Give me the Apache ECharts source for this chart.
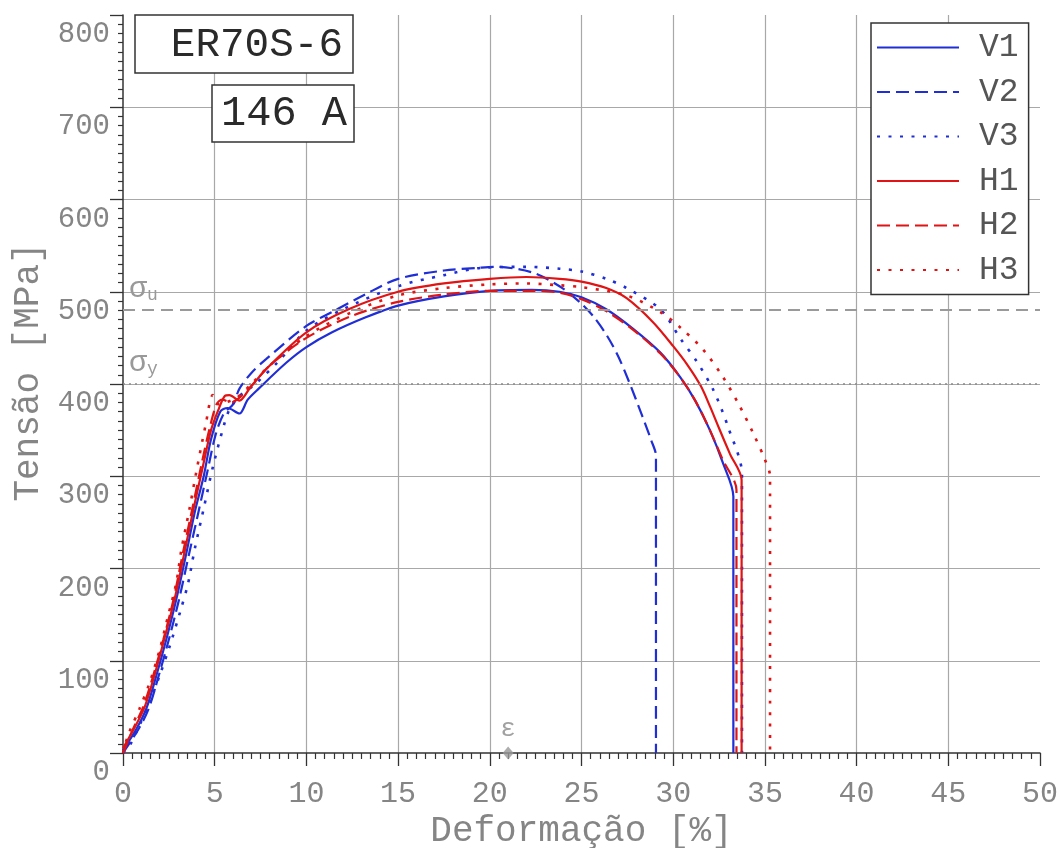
<!DOCTYPE html>
<html><head><meta charset="utf-8">
<script src="https://cdn.jsdelivr.net/npm/echarts@6/dist/echarts.min.js"></script>
<style>html,body{margin:0;padding:0;background:#fff}#c{width:1060px;height:848px}</style>
</head><body><div id="c"></div>
<script>
// ---- data (strain %, stress MPa) ----
const seriesNames = ['V1', 'V2', 'V3', 'H1', 'H2', 'H3'];

const v1X = [0, 0.73, 1.27, 1.82, 2.36, 2.9, 3.49, 3.9, 4.4, 4.8, 5.3, 5.7, 6.35, 6.8, 7.4, 8.9, 10, 11.4, 13.2, 15, 17.5, 20, 22.3, 23.8, 25, 26.35, 27.8, 29.3, 30.4, 31.2, 32.0, 32.7, 33.28, 33.28];
const v1Y = [3, 26, 48, 84, 123, 166, 220, 260, 300, 340, 370, 374, 368, 383, 395, 423, 440, 456, 472, 485, 495, 501, 502, 500, 494, 481, 460, 434, 407, 382, 350, 315, 278, 0];

const v2X = [0, 0.85, 1.4, 1.95, 2.5, 3.05, 3.65, 4.1, 4.6, 5.05, 5.5, 6.0, 6.35, 7.0, 7.8, 10, 11.4, 13.2, 15, 17.5, 19.4, 20.3, 22.3, 23.8, 25, 25.7, 26.4, 27.0, 27.6, 28.3, 28.8, 29.06, 29.06];
const v2Y = [0, 26, 48, 84, 123, 166, 220, 260, 305, 345, 368, 378, 395, 412, 427, 463, 478, 497, 514, 523, 526, 527, 521, 506, 487, 472, 452, 430, 402, 366, 339, 322, 0];

const v3X = [0, 0.36, 0.9, 1.45, 2.0, 2.55, 3.1, 3.55, 3.9, 4.4, 4.9, 5.5, 5.8, 6.35, 7.1, 8.5, 10, 12, 15, 17.5, 19.6, 22, 23.8, 25, 26.35, 27.46, 29.3, 30.4, 31.3, 32.2, 33.0, 33.75, 33.75];
const v3Y = [0, 8, 30, 55, 84, 116, 152, 184, 220, 265, 310, 355, 372, 387, 398, 425, 458, 481, 506, 518, 526, 527, 525, 522, 514, 504, 481, 449, 424, 393, 353, 302, 0];

const h1X = [0, 0.7, 1.22, 1.77, 2.3, 2.85, 3.43, 3.85, 4.35, 4.8, 5.2, 5.55, 5.8, 6.35, 6.9, 7.8, 10, 12.3, 15, 17.5, 20, 22, 23.8, 25, 26.35, 27.46, 28.9, 30, 30.8, 31.5, 32.0, 32.5, 33.1, 33.73, 33.73];
const h1Y = [5, 30, 52, 88, 127, 170, 225, 265, 310, 350, 372, 387, 388, 382, 395, 416, 456, 481, 500, 509, 514, 516, 514, 511, 504, 493, 467, 441, 420, 398, 376, 352, 324, 296, 0];

const h2X = [0, 0.55, 1.1, 1.65, 2.2, 2.75, 3.3, 3.75, 4.25, 4.7, 5.1, 5.4, 5.9, 6.4, 7.0, 8.0, 10, 12.5, 15, 17.5, 20, 22.3, 23.8, 25, 26.35, 27.8, 29.3, 30.4, 31.2, 32.0, 32.7, 33.45, 33.45];
const h2Y = [0, 26, 50, 84, 123, 166, 220, 262, 310, 350, 378, 383, 380, 386, 398, 420, 450, 474, 489, 497, 501, 501, 499, 492, 479, 459, 433, 407, 382, 350, 318, 285, 0];

const h3X = [0, 0.27, 0.9, 1.45, 2.0, 2.45, 2.9, 3.18, 3.6, 4.0, 4.5, 4.9, 5.2, 5.6, 6.2, 7.0, 8.0, 10, 12.5, 15, 17.5, 20, 22, 23.8, 25, 27.46, 29.3, 30.4, 31.6, 32.7, 33.6, 34.4, 35.0, 35.28, 35.28];
const h3Y = [0, 19, 48, 76, 112, 148, 184, 220, 262, 305, 355, 388, 378, 380, 385, 400, 420, 452, 478, 496, 504, 508, 509, 507, 505, 496, 478, 461, 438, 408, 377, 345, 318, 300, 0];

const sigmaU = 480;      // MPa
const sigmaY = 400;      // MPa
const epsStrain = 21.0;  // %
const boxTexts = ['ER70S-6', '146 A'];

// ---- style ----
const FONT = "'Liberation Mono', 'Courier New', monospace";
const BLUE = '#1f2ed6', RED = '#e01414';
const GREY_TXT = '#858585';
const pairs = (xs, ys) => xs.map((x, i) => [x, ys[i]]);
const styles = [
  { c: BLUE, t: 'solid', w: 2.2 },
  { c: BLUE, t: [13, 6], w: 2.2 },
  { c: BLUE, t: [3, 8.5], w: 2.6 },
  { c: RED, t: 'solid', w: 2.2 },
  { c: RED, t: [13, 6], w: 2.2 },
  { c: RED, t: [3, 8.5], w: 2.6 }
];
const datas = [pairs(v1X, v1Y), pairs(v2X, v2Y), pairs(v3X, v3Y), pairs(h1X, h1Y), pairs(h2X, h2Y), pairs(h3X, h3Y)];

const series = seriesNames.map((n, i) => ({
  name: n, type: 'line', data: datas[i], showSymbol: false, symbol: 'none',
  smooth: 0.3, animation: false, z: 3,
  lineStyle: { color: styles[i].c, type: styles[i].t, width: styles[i].w },
  itemStyle: { color: styles[i].c }
}));

series[0].markLine = {
  silent: true, symbol: 'none', animation: false,
  data: [
    { yAxis: sigmaU, lineStyle: { color: '#9a9a9a', type: [12, 7], width: 2 },
      label: { formatter: '{s|σ}{u|u}' } },
    { yAxis: sigmaY, lineStyle: { color: '#8a8a8a', type: [2, 4], width: 1.6 },
      label: { formatter: '{s|σ}{u|y}' } }
  ],
  label: {
    show: true, position: 'insideStartTop', distance: [6, 6],
    rich: {
      s: { fontFamily: FONT, fontSize: 30, color: '#999' },
      u: { fontFamily: FONT, fontSize: 18, color: '#999', padding: [12, 0, 0, 0] }
    }
  }
};

series.push({
  name: 'eps', type: 'scatter', data: [[epsStrain, 0]], symbol: 'diamond', symbolSize: [11, 13],
  itemStyle: { color: '#999' }, z: 5, silent: true, animation: false,
  label: { show: true, position: 'top', distance: 4, formatter: 'ε', fontFamily: FONT, fontSize: 26, color: '#8a8a8a' }
});

const option = {
  backgroundColor: '#fff',
  animation: false,
  grid: { left: 123, right: 20, top: 15, bottom: 95, containLabel: false, outerBoundsMode: 'none' },
  xAxis: {
    type: 'value', min: 0, max: 50, interval: 5,
    name: 'Deformação [%]', nameLocation: 'middle', nameGap: 60,
    nameTextStyle: { fontFamily: FONT, fontSize: 36, color: GREY_TXT },
    axisLine: { show: true, onZero: false, lineStyle: { color: '#333', width: 1.5 } },
    axisTick: { show: true, length: 13, lineStyle: { color: '#333', width: 1.3 } },
    minorTick: { show: true, splitNumber: 10, length: 6, lineStyle: { color: '#333', width: 1.2 } },
    axisLabel: { margin: 26, fontFamily: FONT, fontSize: 30, color: GREY_TXT },
    splitLine: { show: true, showMinLine: false, showMaxLine: false, lineStyle: { color: '#a8a8a8', width: 1.2 } }
  },
  yAxis: {
    type: 'value', min: 0, max: 800, interval: 100,
    name: 'Tensão [MPa]', nameLocation: 'middle', nameGap: 75,
    nameTextStyle: { fontFamily: FONT, fontSize: 36, color: GREY_TXT, padding: [0, 0, 0, 24] },
    axisLine: { show: true, onZero: false, lineStyle: { color: '#333', width: 1.5 } },
    axisTick: { show: true, length: 13, lineStyle: { color: '#333', width: 1.3 } },
    minorTick: { show: true, splitNumber: 10, length: 5, lineStyle: { color: '#333', width: 1.2 } },
    axisLabel: { margin: 13, fontFamily: FONT, fontSize: 29, color: GREY_TXT, verticalAlign: 'top', padding: [5, 0, 0, 0] },
    splitLine: { show: true, showMinLine: false, showMaxLine: false, lineStyle: { color: '#a8a8a8', width: 1.2 } }
  },
  legend: {
    data: seriesNames, orient: 'vertical', left: 871, top: 23,
    backgroundColor: '#fff', borderColor: '#333', borderWidth: 1.5,
    padding: [8, 10, 8, 5], itemWidth: 82, itemHeight: 14, itemGap: 11.5,
    itemStyle: { opacity: 0, borderWidth: 0 },
    textStyle: { fontFamily: FONT, fontSize: 33, lineHeight: 33, color: '#555', padding: [0, 0, 0, 15] },
    selectedMode: false, z: 20
  },
  graphic: [
    { type: 'rect', z: 20, shape: { x: 135, y: 15, width: 218, height: 58 },
      style: { fill: '#fff', stroke: '#333', lineWidth: 1.5 } },
    { type: 'text', z: 21, x: 343, y: 45,
      style: { text: boxTexts[0], font: "41px 'Liberation Mono', monospace", fill: '#2a2a2a', textAlign: 'right', textVerticalAlign: 'middle' } },
    { type: 'rect', z: 20, shape: { x: 212, y: 85, width: 142, height: 57 },
      style: { fill: '#fff', stroke: '#333', lineWidth: 1.5 } },
    { type: 'text', z: 21, x: 284, y: 114,
      style: { text: boxTexts[1], font: "42px 'Liberation Mono', monospace", fill: '#2a2a2a', textAlign: 'center', textVerticalAlign: 'middle' } }
  ],
  series: series
};

const chart = echarts.init(document.getElementById('c'), null, { renderer: 'canvas' });
chart.setOption(option);
</script>
</body></html>
